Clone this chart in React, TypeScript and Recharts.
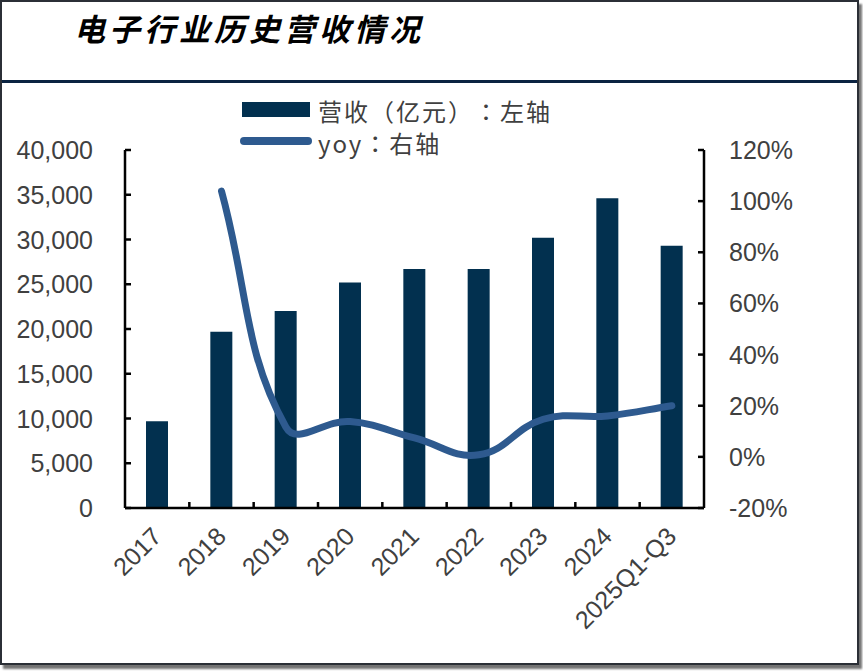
import React from 'react';
import { ComposedChart, Bar, Line, XAxis, YAxis, Legend } from 'recharts';

// data
const categories = ['2017', '2018', '2019', '2020', '2021', '2022', '2023', '2024', '2025Q1-Q3'];
const revenue = [9700, 19700, 22000, 25200, 26700, 26700, 30200, 34600, 29300];
const yoy: (number | null)[] = [null, 103.9, 11.7, 13.8, 7.4, 0.8, 14.7, 16.0, 20.0];
const leftTicks = [0, 5000, 10000, 15000, 20000, 25000, 30000, 35000, 40000];
const rightTicks = [-20, 0, 20, 40, 60, 80, 100, 120];

const chartData = categories.map((name, i) => ({ name, revenue: revenue[i], yoy: yoy[i] }));

const W = 863;
const H = 671;
const PLOT_LEFT = 125;
const PLOT_RIGHT = 704;
const PLOT_TOP = 150;
const PLOT_BOTTOM = 508;
const BAND = (PLOT_RIGHT - PLOT_LEFT) / categories.length;

const BAR_COLOR = '#02304f';
const LINE_COLOR = '#2e5a8f';
const TEXT = '#404040';
const NUM_FONT = '"Liberation Sans", Arial, sans-serif';
const CJK_FONT = '"Noto Sans CJK SC", "Noto Sans", sans-serif';
const LEGEND_FONT = '"Noto Sans CJK TC", "Noto Sans CJK SC", sans-serif';

// Excel-like smoothing: cardinal spline with arms scaled by segment length
function excelSmooth(context: any) {
  let pts: number[][] = [];
  const t = 0.42;
  const ctrl = (i: number) => {
    const p1 = pts[i];
    const p0 = pts[i - 1] || p1;
    const p2 = pts[i + 1] || p1;
    const d01 = Math.hypot(p1[0] - p0[0], p1[1] - p0[1]);
    const d12 = Math.hypot(p2[0] - p1[0], p2[1] - p1[1]);
    const sum = d01 + d12 || 1;
    const fa = (t * d01) / sum;
    const fb = (t * d12) / sum;
    const tx = p2[0] - p0[0];
    const ty = p2[1] - p0[1];
    return {
      before: [p1[0] - fa * tx, p1[1] - fa * ty],
      after: [p1[0] + fb * tx, p1[1] + fb * ty],
    };
  };
  return {
    areaStart() {},
    areaEnd() {},
    lineStart() {
      pts = [];
    },
    point(x: number, y: number) {
      pts.push([+x, +y]);
    },
    lineEnd() {
      if (!pts.length) return;
      context.moveTo(pts[0][0], pts[0][1]);
      if (pts.length === 1) return;
      for (let i = 0; i < pts.length - 1; i++) {
        const a = ctrl(i).after;
        const b = ctrl(i + 1).before;
        context.bezierCurveTo(a[0], a[1], b[0], b[1], pts[i + 1][0], pts[i + 1][1]);
      }
    },
  };
}

const LeftTick = (props: any) => {
  const { x, y, payload } = props;
  return (
    <g>
      <line x1={PLOT_LEFT} x2={PLOT_LEFT + 6} y1={y} y2={y} stroke="#000" strokeWidth={2.5} />
      <text x={x} y={y} dy="0.36em" textAnchor="end" fill={TEXT} fontSize={25} fontFamily={NUM_FONT}>
        {Number(payload.value).toLocaleString('en-US')}
      </text>
    </g>
  );
};

const RightTick = (props: any) => {
  const { x, y, payload } = props;
  return (
    <g>
      <line x1={PLOT_RIGHT - 6} x2={PLOT_RIGHT} y1={y} y2={y} stroke="#000" strokeWidth={2.5} />
      <text x={x} y={y} dy="0.36em" textAnchor="start" fill={TEXT} fontSize={25} fontFamily={NUM_FONT}>
        {`${payload.value}%`}
      </text>
    </g>
  );
};

const BottomTick = (props: any) => {
  const { x, y, payload, index } = props;
  const tx = x + 6;
  const ty = y + 30;
  return (
    <g>
      {index < categories.length - 1 && (
        <line
          x1={x + BAND / 2}
          x2={x + BAND / 2}
          y1={PLOT_BOTTOM}
          y2={PLOT_BOTTOM - 6}
          stroke="#000"
          strokeWidth={2.5}
        />
      )}
      <text
        x={tx}
        y={ty}
        textAnchor="end"
        transform={`rotate(-45 ${tx} ${ty})`}
        fill={TEXT}
        fontSize={25}
        fontFamily={NUM_FONT}
      >
        {payload.value}
      </text>
    </g>
  );
};

const renderLegend = (props: any) => {
  const payload = [...(props.payload || [])].sort(
    (a: any, b: any) => (a.type === 'line' ? 1 : 0) - (b.type === 'line' ? 1 : 0)
  );
  return (
    <div
      style={{
        fontFamily: LEGEND_FONT,
        fontSize: 24,
        letterSpacing: 2,
        color: TEXT,
        textSpacingTrim: 'space-all',
      } as any}
    >
      {payload.map((entry: any) => (
        <div key={entry.value} style={{ display: 'flex', alignItems: 'center', height: 32 }}>
          <div style={{ width: 78, display: 'flex', alignItems: 'center', marginTop: -4 }}>
            {entry.type === 'line' ? (
              <div style={{ width: 72, height: 8, borderRadius: 4, background: entry.color }} />
            ) : (
              <div style={{ width: 68, height: 15, marginLeft: 2, background: entry.color }} />
            )}
          </div>
          <span style={{ lineHeight: '28px', whiteSpace: 'nowrap' }}>{entry.value}</span>
        </div>
      ))}
    </div>
  );
};

export default function App() {
  return (
    <div style={{ position: 'absolute', left: 0, top: 0, width: W, height: H, background: '#fff' }}>
      <div
        style={{
          position: 'absolute',
          left: 0,
          top: 0,
          width: 859,
          height: 665,
          boxSizing: 'border-box',
          border: '2px solid #2b2f36',
          boxShadow: '3px 4px 2px rgba(0,0,0,0.55)',
          background: '#fff',
        }}
      />
      <div
        style={{
          position: 'absolute',
          left: 74,
          top: 5,
          fontFamily: CJK_FONT,
          fontWeight: 700,
          fontStyle: 'italic',
          fontSize: 31,
          letterSpacing: 4,
          color: '#000',
          whiteSpace: 'nowrap',
        }}
      >
        电子行业历史营收情况
      </div>
      <div style={{ position: 'absolute', left: 2, top: 80, width: 855, height: 3, background: '#0b2341' }} />
      <div style={{ position: 'absolute', left: 0, top: 0 }}>
        <ComposedChart
          width={W}
          height={H}
          data={chartData}
          margin={{ top: PLOT_TOP, right: 0, bottom: 0, left: 0 }}
        >
          <XAxis
            dataKey="name"
            type="category"
            height={H - PLOT_BOTTOM}
            axisLine={{ stroke: '#000', strokeWidth: 2.5 }}
            tickLine={false}
            tickSize={0}
            tickMargin={0}
            interval={0}
            tick={<BottomTick />}
          />
          <YAxis
            yAxisId="left"
            orientation="left"
            width={PLOT_LEFT}
            domain={[0, 40000]}
            ticks={leftTicks}
            interval={0}
            axisLine={{ stroke: '#000', strokeWidth: 2.5 }}
            tickLine={false}
            tickSize={0}
            tickMargin={32}
            tick={<LeftTick />}
          />
          <YAxis
            yAxisId="right"
            orientation="right"
            width={W - PLOT_RIGHT}
            domain={[-20, 120]}
            ticks={rightTicks}
            interval={0}
            axisLine={{ stroke: '#000', strokeWidth: 2.5 }}
            tickLine={false}
            tickSize={0}
            tickMargin={25}
            tick={<RightTick />}
          />
          <Legend
            layout="vertical"
            align="center"
            verticalAlign="middle"
            content={renderLegend}
            wrapperStyle={{ left: 240, top: 95, width: 360, height: 64 }}
          />
          <Bar
            yAxisId="left"
            dataKey="revenue"
            name="营收（亿元）：左轴"
            fill={BAR_COLOR}
            barSize={22}
            isAnimationActive={false}
          />
          <Line
            yAxisId="right"
            dataKey="yoy"
            name="yoy：右轴"
            type={excelSmooth as any}
            stroke={LINE_COLOR}
            strokeWidth={7}
            strokeLinecap="round"
            dot={false}
            activeDot={false}
            legendType="line"
            isAnimationActive={false}
          />
        </ComposedChart>
      </div>
    </div>
  );
}
